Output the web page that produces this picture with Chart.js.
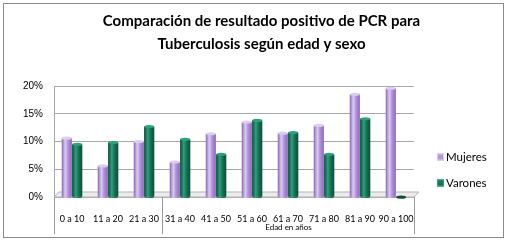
<!DOCTYPE html>
<html>
<head>
<meta charset="utf-8">
<script src="https://cdn.jsdelivr.net/npm/chart.js@4.4.0/dist/chart.umd.min.js"></script>
<style>html,body{margin:0;padding:0;background:#fff}</style>
</head>
<body>
<canvas id="c" width="507" height="242"></canvas>
<script>
// datos
const categorias = ['0 a 10', '11 a 20', '21 a 30', '31 a 40', '41 a 50', '51 a 60', '61 a 70', '71 a 80', '81 a 90', '90 a 100'];
const mujeres = [10.6, 5.6, 10.0, 6.3, 11.4, 13.5, 11.5, 12.9, 18.5, 19.6];
const varones = [9.5, 9.8, 12.7, 10.4, 7.7, 13.8, 11.6, 7.7, 14.1, 0];
const ticksY = [0, 5, 10, 15, 20];
const grupos = [{label:'', desde:0, hasta:2}, {label:'Edad en años', desde:3, hasta:9}];
const titulo = ['Comparación de resultado positivo de PCR para', 'Tuberculosis según edad y sexo'];

const tonos = [
	{base:'#B497DD', claro:'#DCCBF3', oscuro:'#8A68B6'},
	{base:'#18765A', claro:'#2EA07C', oscuro:'#0C4C39'},
];

// piso del grafico 3d
const piso = {
	id:'piso',
	beforeDatasetsDraw(c) {
		const a = c.chartArea, x = c.ctx;
		x.save();
		x.fillStyle = '#ececec';
		x.strokeStyle = '#b5b5b5';
		x.beginPath();
		x.moveTo(a.left, a.bottom);
		x.lineTo(a.right, a.bottom);
		x.lineTo(a.right + 5, a.bottom - 5);
		x.lineTo(a.left + 5, a.bottom - 5);
		x.closePath();
		x.fill();
		x.stroke();
		x.restore();
	}
};

// sombreado de cilindros sobre las barras que calcula chart.js
const cilindros = {
	id:'cilindros',
	afterDatasetsDraw(c) {
		const x = c.ctx;
		c.data.datasets.forEach((d, i) => {
			const t = tonos[i];
			c.getDatasetMeta(i).data.forEach(e => {
				const w = e.width, l = e.x - w / 2, r = w / 2, ry = w * 0.16;
				const g = x.createLinearGradient(l, 0, l + w, 0);
				g.addColorStop(0, t.oscuro);
				g.addColorStop(0.35, t.claro);
				g.addColorStop(0.6, t.base);
				g.addColorStop(1, t.oscuro);
				x.save();
				x.fillStyle = g;
				x.fillRect(l, e.y, w, e.base - e.y);
				x.beginPath();
				x.ellipse(e.x, e.base, r, ry, 0, 0, Math.PI);
				x.fill();
				x.fillStyle = e.base - e.y < 1 ? t.oscuro : t.claro;
				x.beginPath();
				x.ellipse(e.x, e.y, r, ry, 0, 0, Math.PI * 2);
				x.fill();
				x.restore();
			});
		});
	}
};

// segundo nivel del eje de categorias
const ejeGrupos = {
	id:'ejeGrupos',
	afterDraw(c) {
		const s = c.scales.x, x = c.ctx, a = c.chartArea;
		const paso = s.getPixelForValue(1) - s.getPixelForValue(0);
		x.save();
		x.strokeStyle = '#9a9a9a';
		x.lineWidth = 1;
		x.fillStyle = '#000';
		x.font = '8px Lato';
		x.textAlign = 'center';
		x.textBaseline = 'middle';
		grupos.forEach(g => {
			const x0 = Math.round(s.getPixelForValue(g.desde) - paso / 2) + 0.5;
			const x1 = Math.round(s.getPixelForValue(g.hasta) + paso / 2) + 0.5;
			x.beginPath();
			x.moveTo(x0, a.bottom);
			x.lineTo(x0, a.bottom + 37);
			x.moveTo(x1, a.bottom);
			x.lineTo(x1, a.bottom + 37);
			x.stroke();
			if (g.label) x.fillText(g.label, (x0 + x1) / 2, a.bottom + 30);
		});
		x.restore();
	}
};

// leyenda a la derecha
const leyenda = {
	id:'leyenda',
	afterDraw(c) {
		const x = c.ctx;
		x.save();
		x.font = '11.5px Lato';
		x.textBaseline = 'middle';
		c.data.datasets.forEach((d, i) => {
			const y = 157 + i * 26;
			x.fillStyle = tonos[i].base;
			x.fillRect(437, y - 3.5, 7, 7);
			x.strokeStyle = tonos[i].claro;
			x.strokeRect(437.5, y - 3, 6, 6);
			x.fillStyle = '#000';
			x.fillText(d.label, 446, y);
		});
		x.restore();
	}
};

const marco = {
	id:'marco',
	afterDraw(c) {
		const x = c.ctx;
		x.save();
		x.strokeStyle = '#8a8a8a';
		x.strokeRect(3.5, 3.5, 500, 234);
		x.restore();
	}
};

const b = document.getElementById('c');
new Chart(b, {
	type:'bar',
	data:{
		labels:categorias,
		datasets:[
			{label:'Mujeres', data:mujeres, backgroundColor:tonos[0].base, borderWidth:0},
			{label:'Varones', data:varones, backgroundColor:tonos[1].base, borderWidth:0},
		]
	},
	options:{
		responsive:false,
		animation:false,
		devicePixelRatio:1,
		layout:{padding:{left:16, right:0, top:0, bottom:0}},
		datasets:{bar:{categoryPercentage:0.58, barPercentage:0.95}},
		plugins:{
			legend:{display:false},
			tooltip:{enabled:false},
			title:{
				display:true,
				text:titulo,
				color:'#000',
				font:{family:'Lato', size:15, weight:'bold', lineHeight:1.5},
				padding:{top:10, bottom:31}
			}
		},
		scales:{
			x:{
				grid:{display:false},
				border:{display:false},
				ticks:{color:'#000', font:{family:'Lato', size:9}, maxRotation:0, autoSkip:false, padding:9},
				afterFit: s => { s.height = 45 }
			},
			y:{
				min:0, max:20,
				afterBuildTicks: s => { s.ticks = ticksY.map(v => ({value:v})) },
				ticks:{color:'#000', font:{family:'Liberation Sans', size:10}, padding:11, callback: v => v + '%'},
				grid:{color:'#a8a8a8', drawTicks:false},
				border:{display:true, color:'#a8a8a8'},
				afterFit: s => { s.width = 38 }
			},
			// espacio para la leyenda
			lado:{
				position:'right',
				min:0, max:1,
				grid:{display:false},
				border:{display:false},
				ticks:{display:false},
				afterFit: s => { s.width = 93 }
			}
		}
	},
	plugins:[piso, cilindros, ejeGrupos, leyenda, marco]
});
</script>
</body>
</html>
